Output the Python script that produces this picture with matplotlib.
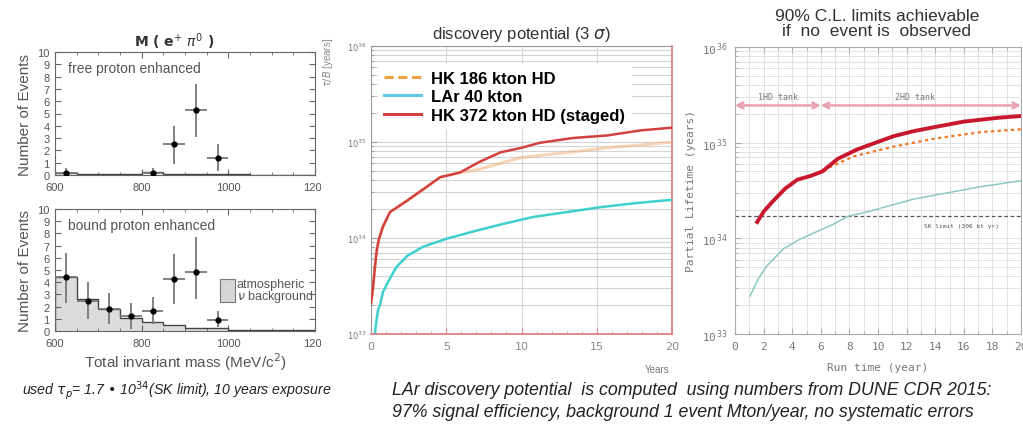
"""
Composite slide: p -> e+ pi0 mass spectra (SK), discovery potential (3 sigma)
and 90% C.L. limits for Hyper-K / LAr.
"""

import matplotlib
matplotlib.use("Agg")
import matplotlib.pyplot as plt
import matplotlib.ticker as mticker
from matplotlib.transforms import Bbox, TransformedBbox
import numpy as np

W, H = 1023, 427

# ─── Data: left panels (invariant mass, MeV/c^2) ────────────────────────────
mass_edges = [600, 650, 700, 750, 800, 850, 900, 950, 1000, 1050, 1100, 1150, 1200]
free_bkg = [0.2, 0.1, 0.1, 0.1, 0.25, 0.1, 0.1, 0.1, 0.1, 0.0, 0.0, 0.0]
free_x = [625, 825, 875, 925, 975]
free_y = [0.2, 0.2, 2.5, 5.3, 1.4]
free_lo = [0.2, 0.2, 1.6, 2.25, 1.1]
free_hi = [0.4, 0.4, 1.5, 2.1, 1.1]

bound_bkg = [4.4, 2.6, 1.8, 1.05, 0.77, 0.5, 0.27, 0.27, 0.08, 0.08, 0.05, 0.05]
bound_x = [625, 675, 725, 775, 825, 875, 925, 975]
bound_y = [4.4, 2.5, 1.8, 1.2, 1.6, 4.25, 4.8, 0.9]
bound_lo = [2.1, 1.5, 1.25, 1.05, 1.05, 2.05, 2.2, 0.6]
bound_hi = [2.0, 1.55, 1.35, 1.1, 1.15, 2.05, 2.9, 0.75]

# ─── Data: discovery potential (3 sigma) ────────────────────────────────────
dp_years_hk372 = [0, 0.13, 0.27, 0.38, 0.53, 0.8, 1.26, 2.4, 3.45, 4.6, 5.9,
                  7.2, 8.6, 10, 11.2, 13.4, 15.7, 17.9, 20]
dp_hk372 = [2.1e33, 3.0e33, 5.1e33, 7.4e33, 9.8e33, 1.32e34, 1.86e34, 2.45e34,
            3.2e34, 4.3e34, 4.8e34, 6.2e34, 7.8e34, 8.7e34, 9.8e34, 1.10e35,
            1.17e35, 1.32e35, 1.41e35]
dp_years_hk186 = [0, 0.13, 0.27, 0.38, 0.53, 0.8, 1.26, 2.4, 3.45, 4.6, 5.9,
                  7.2, 8.6, 10, 13.4, 15.7, 17.9, 20]
dp_hk186 = [2.1e33, 3.0e33, 5.1e33, 7.4e33, 9.8e33, 1.32e34, 1.86e34, 2.45e34,
            3.2e34, 4.3e34, 4.8e34, 5.2e34, 6.0e34, 6.9e34, 7.9e34, 8.7e34,
            9.3e34, 1.0e35]
dp_years_lar = [0.27, 0.38, 0.47, 0.6, 0.8, 1.26, 1.7, 2.4, 3.45, 5, 6.8, 8.6,
                10.8, 13, 15.2, 17.5, 20]
dp_lar = [1.05e33, 1.45e33, 1.8e33, 2.0e33, 2.75e33, 3.8e33, 5.0e33, 6.5e33,
          8.1e33, 9.8e33, 1.17e34, 1.38e34, 1.66e34, 1.86e34, 2.09e34, 2.3e34,
          2.5e34]

# ─── Data: 90% C.L. limits ──────────────────────────────────────────────────
cl_years_hk372 = [1.55, 2.0, 2.6, 3.5, 4.35, 5.3, 6.1, 7.2, 8.55, 10, 11.1,
                  12.5, 13.9, 16, 18.4, 20]
cl_hk372 = [1.48e34, 1.9e34, 2.4e34, 3.3e34, 4.1e34, 4.5e34, 5.0e34, 6.8e34,
            8.5e34, 1.02e35, 1.17e35, 1.32e35, 1.45e35, 1.66e35, 1.82e35, 1.9e35]
cl_years_hk186 = [6.2, 6.7, 8.3, 11.1, 13.9, 17.2, 20]
cl_hk186 = [5.0e34, 5.6e34, 7.2e34, 9.1e34, 1.10e35, 1.29e35, 1.38e35]
cl_years_lar = [1.05, 1.6, 2.2, 3.4, 4.55, 6.9, 7.9, 9.3, 12.5, 14.9, 17.2, 20]
cl_lar = [2.5e33, 3.7e33, 5.1e33, 7.8e33, 9.8e33, 1.41e34, 1.7e34, 1.9e34,
          2.57e34, 3.0e34, 3.47e34, 4.0e34]
SK_LIMIT = 1.7e34
TANK_SWITCH = 6

GRAY_TXT = "#555555"
SANS = ["Liberation Sans", "DejaVu Sans"]
MONO = ["DejaVu Sans Mono"]


def rect(l, t, r, b):
    """pixel box (left, top, right, bottom) -> figure fraction"""
    return [l / W, 1 - b / H, (r - l) / W, (b - t) / H]


fig = plt.figure(figsize=(W / 100, H / 100), dpi=100)
fig.patch.set_facecolor("white")

# ─── Left panels ────────────────────────────────────────────────────────────
clip = TransformedBbox(Bbox([[0, 0], [321 / W, 1]]), fig.transFigure)


def mass_panel(ax, bkg, xs, ys, lo, hi, label, fill):
    if fill:
        ax.stairs(bkg, mass_edges, fill=True, color="#dcdcdc", zorder=1)
    ax.stairs(bkg, mass_edges, color="#444444", lw=1.0, zorder=2)
    ax.errorbar(xs, ys, xerr=25, yerr=[lo, hi], fmt="o", ms=3.5, color="black",
                ecolor="#777777", elinewidth=1.3, capsize=0, zorder=3)
    ax.set_xlim(600, 1200)
    ax.set_ylim(0, 10)
    ax.set_xticks([600, 800, 1000, 1200])
    ax.xaxis.set_minor_locator(mticker.MultipleLocator(50))
    ax.set_yticks(range(0, 11))
    ax.tick_params(which="both", direction="in", top=True, right=True,
                   labelsize=8, labelcolor=GRAY_TXT, color="#666666")
    ax.tick_params(axis="x", pad=5)
    ax.tick_params(axis="y", pad=4)
    ax.tick_params(which="major", length=4)
    ax.tick_params(which="minor", length=2)
    for sp in ax.spines.values():
        sp.set_color("#666666")
    ax.set_ylabel("Number of Events", fontsize=11, color=GRAY_TXT, family=SANS,
                  labelpad=4)
    ax.text(0.05, 0.87, label, transform=ax.transAxes, fontsize=10,
            color=GRAY_TXT, family=SANS, va="center")
    for lbl in ax.get_xticklabels():
        lbl.set_family(SANS)
        lbl.set_clip_on(True)
        lbl.set_clip_box(clip)
    for lbl in ax.get_yticklabels():
        lbl.set_family(SANS)


ax1 = fig.add_axes(rect(55, 53, 315, 176))
mass_panel(ax1, free_bkg, free_x, free_y, free_lo, free_hi,
           "free proton enhanced", False)
ax1.set_title(r"M ( e$^{+}$ $\pi^{0}$ )", fontsize=10, fontweight="bold",
              color="#333333", pad=4, x=0.46)

ax2 = fig.add_axes(rect(55, 210, 315, 332))
mass_panel(ax2, bound_bkg, bound_x, bound_y, bound_lo, bound_hi,
           "bound proton enhanced", True)
ax2.set_xlabel("Total invariant mass (MeV/c$^2$)", fontsize=11,
               color=GRAY_TXT, family=SANS, labelpad=2)
ax2.add_patch(plt.Rectangle((981, 2.4), 34, 1.9, facecolor="#d6d6d6",
                            edgecolor="#777777", lw=0.8, zorder=4))
ax2.text(1019, 3.85, "atmospheric", fontsize=9, color=GRAY_TXT, family=SANS,
         va="center")
ax2.text(1019, 2.85, r"$\nu$ background", fontsize=9, color=GRAY_TXT,
         family=SANS, va="center")

# ─── Middle panel: discovery potential ──────────────────────────────────────
ax3 = fig.add_axes(rect(371, 47, 672, 335))
ax3.set_yscale("log")
ax3.set_xlim(0, 20)
ax3.set_ylim(1e33, 1e36)
ax3.grid(True, which="both", axis="y", color="#d4d4d4", lw=0.8)
ax3.grid(True, which="major", axis="x", color="#d8d8d8", lw=0.8)
ax3.set_xticks([0, 5, 10, 15, 20])
ax3.xaxis.set_minor_locator(mticker.MultipleLocator(1))
ax3.plot(dp_years_hk186, dp_hk186, color="#f3b27a", lw=2.2, alpha=0.55,
         zorder=3)
ax3.plot(dp_years_lar, dp_lar, color="#3fcfcf", lw=1.8, zorder=3)
ax3.plot(dp_years_hk372, dp_hk372, color="#d2413f", lw=1.8, zorder=4)
# legend handles
ax3.plot([], [], color="#f0a040", lw=2.2, ls=(0, (3, 1.5)), label="HK 186 kton HD")
ax3.plot([], [], color="#5ec8e8", lw=2.2, label="LAr 40 kton")
ax3.plot([], [], color="#d2413f", lw=2.2, label="HK 372 kton HD (staged)")
leg = ax3.legend(loc="upper left", bbox_to_anchor=(0.0, 0.96), frameon=True,
                 prop={"family": SANS, "weight": "bold", "size": 12},
                 handlelength=2.2, handletextpad=0.6, labelspacing=0.2,
                 borderaxespad=0.4)
leg.get_frame().set_edgecolor("none")
leg.get_frame().set_alpha(1.0)
for sp in ("left", "top"):
    ax3.spines[sp].set_color("#9a9a9a")
for sp in ("bottom", "right"):
    ax3.spines[sp].set_color("#de8a8a")
    ax3.spines[sp].set_linewidth(1.4)
ax3.tick_params(axis="y", which="both", direction="in", labelsize=6,
                labelcolor="#777777", color="#999999", pad=3)
ax3.tick_params(axis="x", which="both", direction="in", labelsize=8,
                labelcolor="#888888", color="#de8a8a", pad=5)
ax3.tick_params(which="major", length=4)
ax3.tick_params(which="minor", length=2.5)
ax3.set_title(r"discovery potential (3 $\sigma$)", fontsize=12, color="#333333",
              family=SANS, pad=6)
ax3.text(0.99, -0.105, "Years", transform=ax3.transAxes, ha="right", va="top",
         fontsize=7, color="#777777", family=SANS)
fig.text(328 / W, 1 - 62 / H, r"$\tau/B$ [years]", rotation=90, fontsize=7,
         color="#888888", ha="center", va="center", family=SANS)

# ─── Right panel: 90% C.L. limits ───────────────────────────────────────────
ax4 = fig.add_axes(rect(735, 48, 1021, 335))
ax4.set_yscale("log")
ax4.set_xlim(0, 20)
ax4.set_ylim(1e33, 1e36)
ax4.set_xticks(range(0, 21, 2))
ax4.xaxis.set_minor_locator(mticker.MultipleLocator(1))
ax4.grid(True, which="both", color="#e2e2e2", lw=0.7)
ax4.axhline(SK_LIMIT, color="#555555", lw=0.9, ls=(0, (3, 2)), zorder=2)
ax4.text(13.2, SK_LIMIT * 0.86, "SK limit (306 kt yr)", fontsize=4.5,
         color="#555555", family=MONO, va="top")
ax4.plot(cl_years_lar, cl_lar, color="#8cc9c2", lw=1.1, zorder=3)
ax4.plot(cl_years_hk186, cl_hk186, color="#f07828", lw=1.6, ls=(0, (1.5, 1.5)),
         zorder=3)
ax4.plot(cl_years_hk372, cl_hk372, color="#c8182e", lw=2.8, zorder=4)
arrow_y = 2.45e35
ax4.annotate("", xy=(0, arrow_y), xytext=(TANK_SWITCH, arrow_y),
             arrowprops=dict(arrowstyle="<->", color="#eba0ae", lw=1.8,
                             shrinkA=0, shrinkB=0, mutation_scale=10))
ax4.annotate("", xy=(TANK_SWITCH, arrow_y), xytext=(20, arrow_y),
             arrowprops=dict(arrowstyle="<->", color="#eba0ae", lw=1.8,
                             shrinkA=0, shrinkB=0, mutation_scale=10))
ax4.text(3.0, arrow_y * 1.12, "1HD tank", fontsize=6, color="#777777",
         family=MONO, ha="center", va="bottom")
ax4.text(12.6, arrow_y * 1.12, "2HD tank", fontsize=6, color="#777777",
         family=MONO, ha="center", va="bottom")
for sp in ax4.spines.values():
    sp.set_color("#aaaaaa")
ax4.tick_params(which="both", direction="in", top=True, labelsize=8,
                labelcolor="#777777", color="#aaaaaa", pad=5)
ax4.tick_params(which="major", length=4)
ax4.tick_params(which="minor", length=2)
ax4.yaxis.set_major_locator(mticker.LogLocator(base=10, numticks=5))
ax4.yaxis.set_major_formatter(mticker.FuncFormatter(
    lambda v, _: r"10$^{\,%d}$" % round(np.log10(v))))
ax4.yaxis.set_minor_locator(mticker.LogLocator(base=10, subs=np.arange(2, 10),
                                               numticks=10))
for lbl in ax4.get_xticklabels() + ax4.get_yticklabels():
    lbl.set_family(MONO)
ax4.set_ylabel("Partial Lifetime (years)", fontsize=8, color="#777777",
               family=MONO, labelpad=4)
ax4.set_xlabel("Run time (year)", fontsize=8, color="#777777", family=MONO,
               labelpad=8)
fig.text(877 / W, 1 - 24 / H,
         "90% C.L. limits achievable\nif  no  event is  observed",
         ha="center", va="center", fontsize=12.5, color="#333333",
         family=SANS, linespacing=0.95)

# ─── Captions ───────────────────────────────────────────────────────────────
fig.text(22 / W, 1 - 391 / H,
         r"used $\tau_p$= 1.7 • 10$^{34}$(SK limit), 10 years exposure",
         fontsize=10.2, style="italic", color="#222222", family=SANS,
         va="center")
fig.text(392 / W, 1 - 391 / H,
         "LAr discovery potential  is computed  using numbers from DUNE CDR 2015:",
         fontsize=12.8, style="italic", color="#222222", family=SANS,
         va="center")
fig.text(392 / W, 1 - 413 / H,
         "97% signal efficiency, background 1 event Mton/year, no systematic errors",
         fontsize=12.8, style="italic", color="#222222", family=SANS,
         va="center")

fig.savefig("out.png", dpi=100)
